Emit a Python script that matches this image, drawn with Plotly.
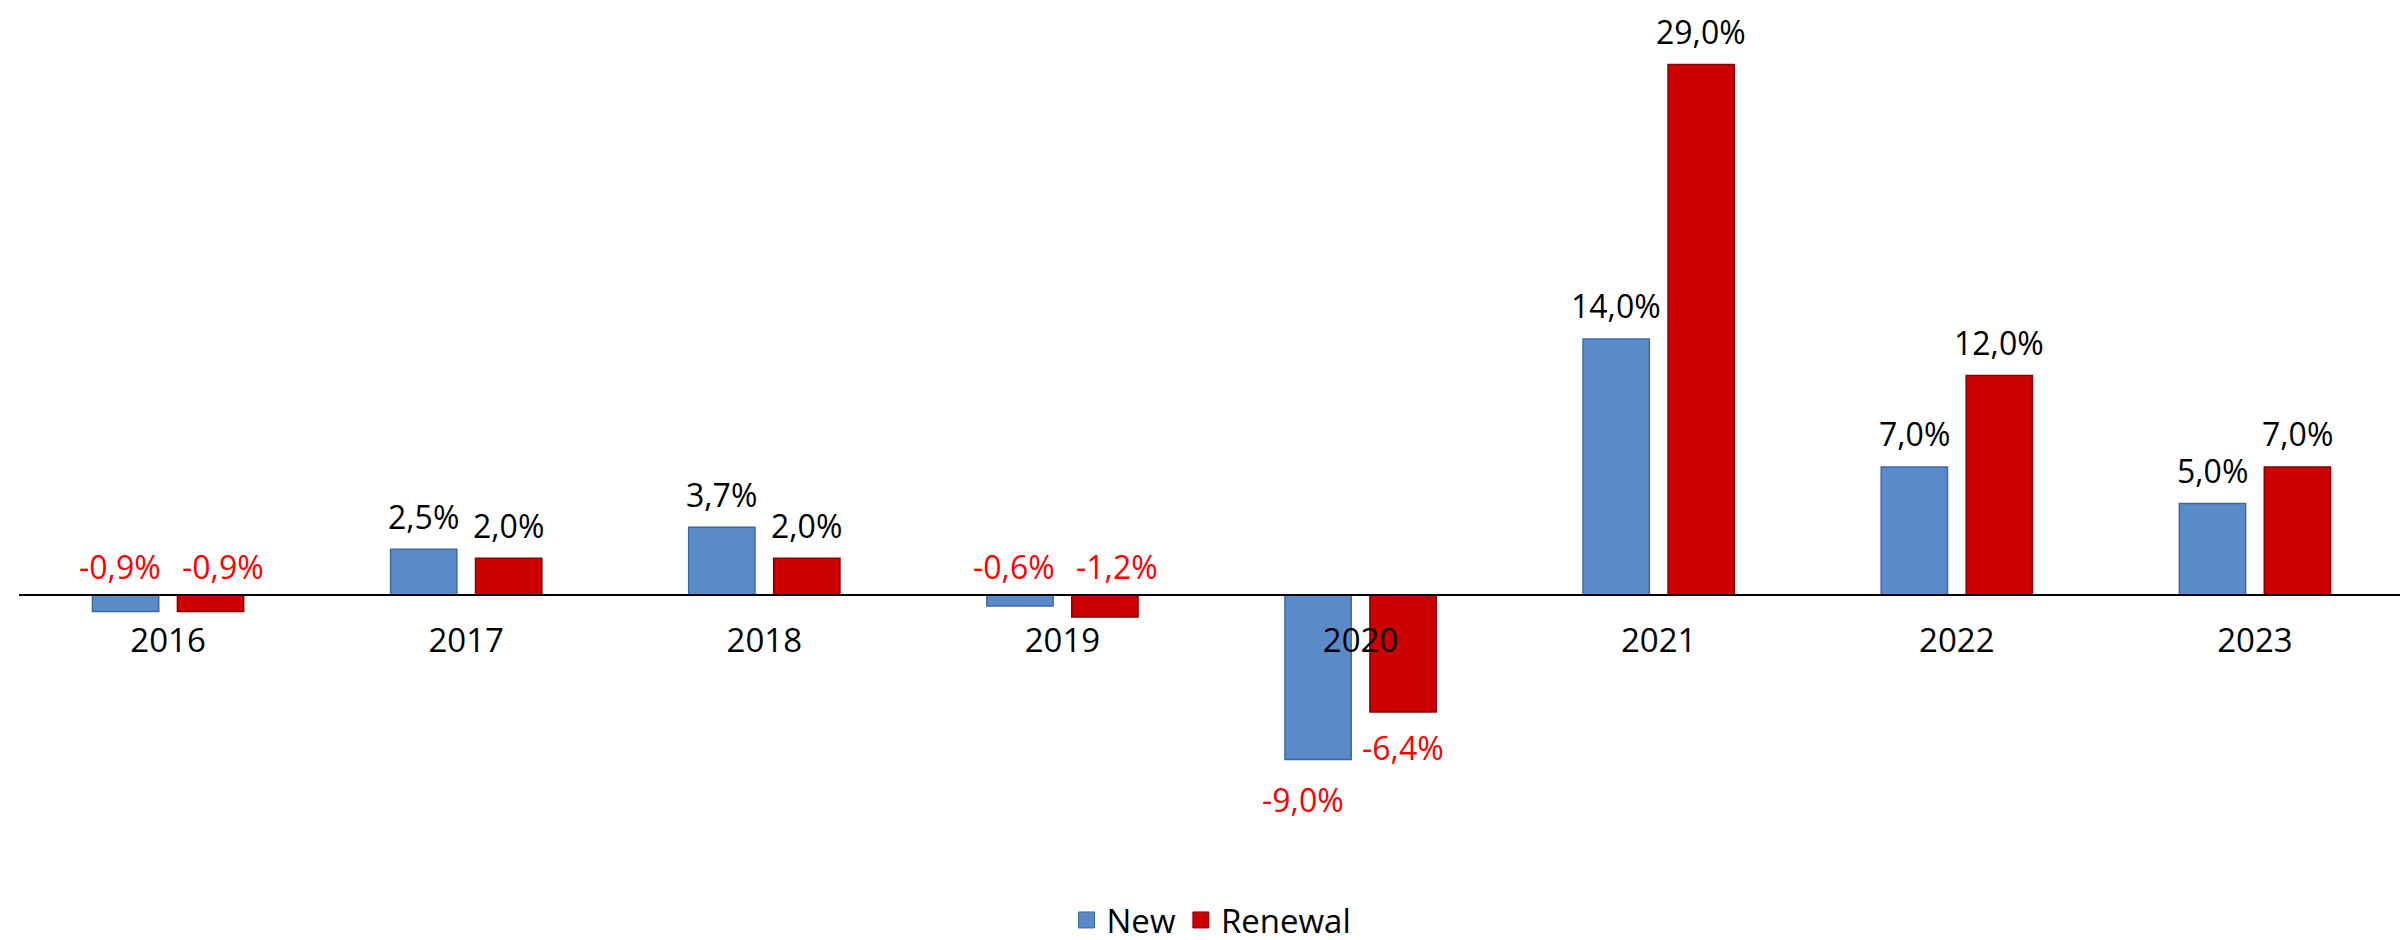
import plotly.graph_objects as go

years = ["2016", "2017", "2018", "2019", "2020", "2021", "2022", "2023"]
new_vals = [-0.9, 2.5, 3.7, -0.6, -9.0, 14.0, 7.0, 5.0]
renewal_vals = [-0.9, 2.0, 2.0, -1.2, -6.4, 29.0, 12.0, 7.0]

Y_MIN, Y_MAX = -12, 31
FONT = "Open Sans"
BLUE, BLUE_EDGE = "#5A8ACA", "#3E6A9E"
RED, RED_EDGE = "#CC0000", "#8A0000"

fig = go.Figure()
fig.add_trace(go.Bar(x=years, y=new_vals, name="New", marker=dict(color=BLUE, line=dict(color=BLUE_EDGE, width=1.5)), showlegend=False))
fig.add_trace(go.Bar(x=years, y=renewal_vals, name="Renewal", marker=dict(color=RED, line=dict(color=RED_EDGE, width=1.5)), showlegend=False))
# legend proxies (no visible points)
fig.add_trace(go.Scatter(x=[years[0]], y=[None], mode="markers", name="New",
                         marker=dict(symbol="square", size=16, color=BLUE, line=dict(color=BLUE_EDGE, width=1))))
fig.add_trace(go.Scatter(x=[years[0]], y=[None], mode="markers", name="Renewal",
                         marker=dict(symbol="square", size=16, color=RED, line=dict(color=RED_EDGE, width=1))))

def fmt(v):
    return f"{v:.1f}".replace(".", ",") + "%"

# label placement style per series: (bar offset px, x adj small neg, x adj big neg, y shift big neg)
annotations = []
for series, base_shift, small_adj, big_adj, big_ys in [(new_vals, -42.5, -6, -15, -40), (renewal_vals, 42.5, 12, 0, -36)]:
    for i, v in enumerate(series):
        if v >= 0:
            y, ys, xs, col = v, 33, base_shift, "black"
        elif v > -2:
            y, ys, xs, col = 0, 28, base_shift + small_adj, "#FF0000"
        else:
            y, ys, xs, col = v, big_ys, base_shift + big_adj, "#FF0000"
        annotations.append(dict(x=i, y=y, xref="x", yref="y", text=fmt(v), showarrow=False,
                                xshift=xs, yshift=ys, font=dict(family=FONT, size=32, color=col)))

fig.update_layout(
    width=2408, height=940,
    margin=dict(l=11, r=12, t=20, b=130),
    paper_bgcolor="white", plot_bgcolor="white",
    barmode="group", bargap=0.43, bargroupgap=0.22,
    font=dict(family=FONT, size=32, color="black"),
    annotations=annotations,
    showlegend=True,
    legend=dict(orientation="h", x=0.5, xanchor="center", yref="container", y=0.0, yanchor="bottom",
                font=dict(family=FONT, size=33, color="black"), itemwidth=30, traceorder="normal"),
    xaxis=dict(type="category", categoryorder="array", categoryarray=years, range=[-0.5, len(years) - 0.5],
               anchor="free", position=(0 - Y_MIN) / (Y_MAX - Y_MIN),
               showline=True, linecolor="black", linewidth=2, ticks="", showgrid=False,
               ticklabelstandoff=16, tickfont=dict(family=FONT, size=33, color="black")),
    yaxis=dict(range=[Y_MIN, Y_MAX], visible=False, showgrid=False, zeroline=False),
)

fig.write_html("out.html")
